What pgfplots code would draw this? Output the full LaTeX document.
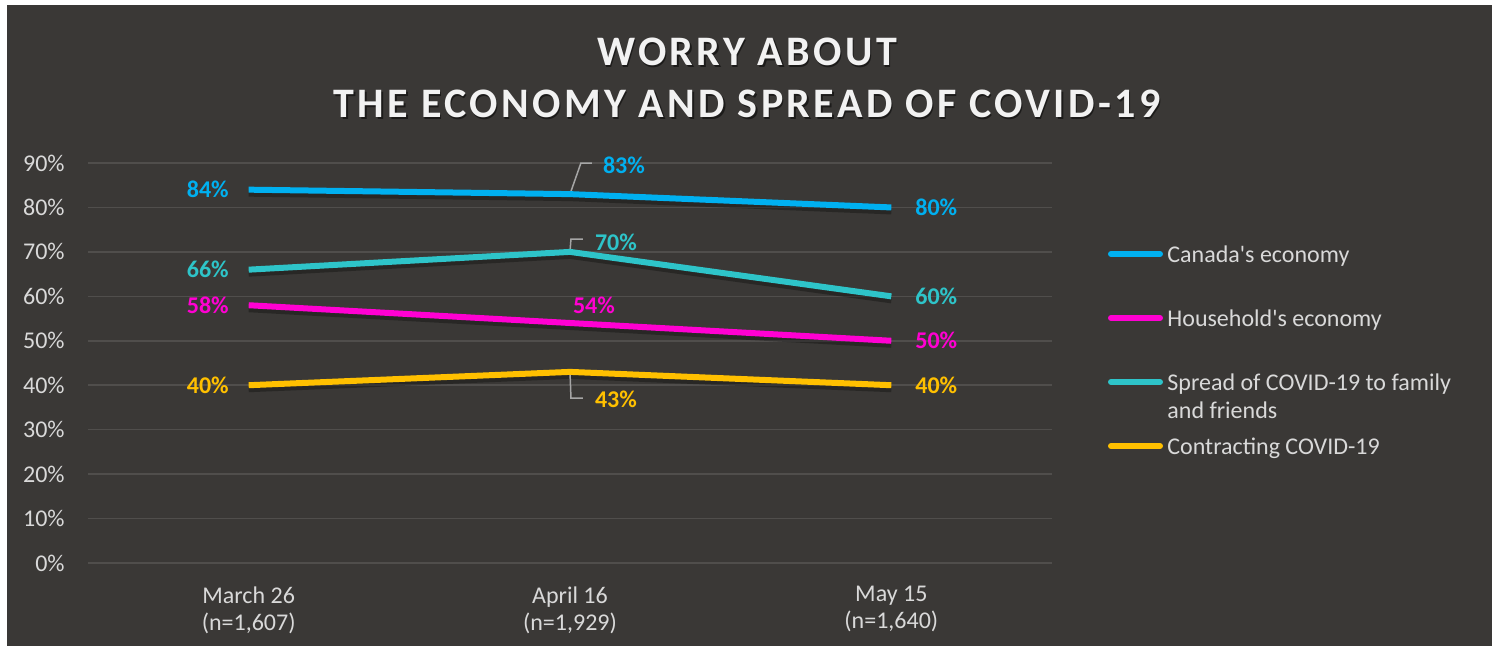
\documentclass[border=0pt]{standalone}
\usepackage{pgfplots}
\pgfplotsset{compat=1.18}
\usepackage{fontspec}
\setmainfont{Carlito}[Ligatures=TeXOff]
\definecolor{bg}{HTML}{3A3836}
\definecolor{gridc}{HTML}{504E4C}
\definecolor{txt}{HTML}{D9D9D9}
\definecolor{titlec}{HTML}{F2F2F2}
\definecolor{cblue}{HTML}{00B0F0}
\definecolor{cmag}{HTML}{FF00D2}
\definecolor{cteal}{HTML}{2EC4C9}
\definecolor{cyel}{HTML}{FFC000}
\definecolor{leadc}{HTML}{A6A6A6}

\pgfplotsset{
  lab/.style n args={4}{
    draw=none, mark=none, forget plot,
    nodes near coords={\pgfmathprintnumber{\pgfplotspointmeta}\%},
    point meta=y,
    every node near coord/.append style={anchor=#2, xshift=#3pt, yshift=#4pt,
       font=\fontsize{12}{14}\selectfont\bfseries, inner sep=0pt, text=#1},
  }
}

\begin{document}
\begin{tikzpicture}[x=1pt,y=1pt]
\fill[white] (0,0) rectangle (747,324);
\fill[bg] (3.5,1) rectangle (746,321.5);
\begin{scope}[font=\fontsize{21}{26}\selectfont\bfseries\addfontfeature{LetterSpace=8}]
\node[text=black, opacity=0.5] at (374.2,297.3) {WORRY ABOUT};
\node[text=black, opacity=0.5] at (374.2,271.3) {THE ECONOMY AND SPREAD OF COVID-19};
\node[text=titlec] at (373.5,298) {WORRY ABOUT};
\node[text=titlec] at (373.5,272) {THE ECONOMY AND SPREAD OF COVID-19};
\end{scope}
\begin{axis}[
  at={(44pt,42.5pt)}, anchor=south west,
  scale only axis, width=482pt, height=200pt,
  xmin=-0.5, xmax=2.5, ymin=0, ymax=90,
  clip=false,
  /pgf/number format/assume math mode=true,
  axis line style={draw=none},
  major tick length=0pt,
  ymajorgrids, grid style={gridc, line width=0.8pt},
  ytick={0,10,...,90},
  yticklabel={\pgfmathprintnumber{\tick}\%},
  yticklabel style={anchor=east, inner sep=0pt, xshift=-11.5pt},
  xtick={0,1,2},
  xticklabels={{March 26\\(n=1,607)},{April 16\\(n=1,929)},{May 15\\(n=1,640)}},
  xticklabel style={align=center, anchor=north, inner sep=0pt, yshift=-11.5pt},
  tick label style={font=\fontsize{12}{13.5}\selectfont, text=txt},
  every axis plot/.append style={line width=3pt},
]
% shadows
\addplot[black, opacity=0.3, yshift=-2pt, forget plot] coordinates {(0,84) (1,83) (2,80)};
\addplot[black, opacity=0.3, yshift=-2pt, forget plot] coordinates {(0,58) (1,54) (2,50)};
\addplot[black, opacity=0.3, yshift=-2pt, forget plot] coordinates {(0,66) (1,70) (2,60)};
\addplot[black, opacity=0.3, yshift=-2pt, forget plot] coordinates {(0,40) (1,43) (2,40)};
% leader lines
\addplot[leadc, line width=0.75pt, forget plot] coordinates {(1,83) (1.034,90) (1.068,90)};
\addplot[leadc, line width=0.75pt, forget plot] coordinates {(1,70) (1.003,72.9) (1.040,72.9)};
\addplot[leadc, line width=0.75pt, forget plot] coordinates {(1,43) (1.003,37.1) (1.040,37.1)};
% series
\addplot[cblue, mark=none] coordinates {(0,84) (1,83) (2,80)};
\addplot[cmag, mark=none] coordinates {(0,58) (1,54) (2,50)};
\addplot[cteal, mark=none] coordinates {(0,66) (1,70) (2,60)};
\addplot[cyel, mark=none] coordinates {(0,40) (1,43) (2,40)};
% data labels
\addplot[lab={cblue}{east}{-8.5}{0}] coordinates {(0,84)};
\addplot[lab={cblue}{west}{15}{14.5}] coordinates {(1,83)};
\addplot[lab={cblue}{west}{10.5}{0}] coordinates {(2,80)};
\addplot[lab={cmag}{east}{-8.5}{0}] coordinates {(0,58)};
\addplot[lab={cmag}{west}{0}{9}] coordinates {(1,54)};
\addplot[lab={cmag}{west}{10.5}{0}] coordinates {(2,50)};
\addplot[lab={cteal}{east}{-8.5}{0}] coordinates {(0,66)};
\addplot[lab={cteal}{west}{11}{5}] coordinates {(1,70)};
\addplot[lab={cteal}{west}{10.5}{0}] coordinates {(2,60)};
\addplot[lab={cyel}{east}{-8.5}{0}] coordinates {(0,40)};
\addplot[lab={cyel}{west}{11}{-13.5}] coordinates {(1,43)};
\addplot[lab={cyel}{west}{10.5}{0}] coordinates {(2,40)};
\end{axis}
% legend
\begin{scope}[line width=3pt, line cap=round]
\draw[cblue] (555.5,197) -- (580,197);
\draw[cmag] (555.5,165) -- (580,165);
\draw[cteal] (555.5,133) -- (580,133);
\draw[cyel] (555.5,101) -- (580,101);
\end{scope}
\begin{scope}[font=\fontsize{12}{14}\selectfont, text=txt, inner sep=0pt]
\node[anchor=base west] at (583.5,192.5) {Canada's economy};
\node[anchor=base west] at (583.5,160.5) {Household's economy};
\node[anchor=base west] at (583.5,128.5) {Spread of COVID-19 to family};
\node[anchor=base west] at (583.5,114.5) {and friends};
\node[anchor=base west] at (583.5,96.5) {Contracting COVID-19};
\end{scope}
\end{tikzpicture}
\end{document}
